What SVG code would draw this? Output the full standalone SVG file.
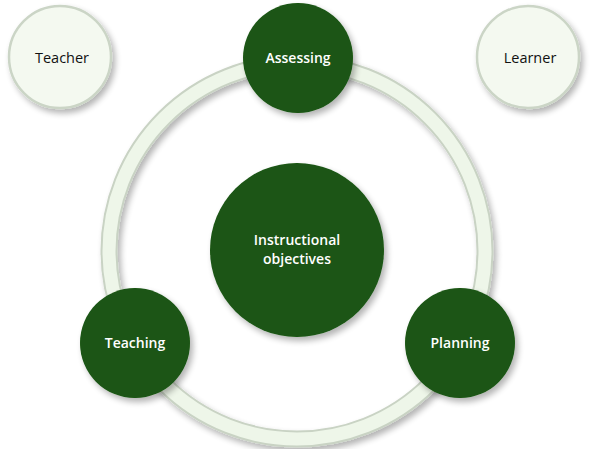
<svg xmlns="http://www.w3.org/2000/svg" width="600" height="449" viewBox="0 0 600 449">
<style>
.dark{fill:#1a5513;}
.light{fill:#f4f9f0;stroke:#cbd5c6;stroke-width:2.5;}
.tw{font-family:"Open Sans","Noto Sans",sans-serif;font-size:14px;font-weight:600;fill:#ffffff;text-anchor:middle;}
.tb{font-family:"Open Sans","Noto Sans",sans-serif;font-size:14.5px;fill:#111111;text-anchor:middle;}
</style>
<defs>
<filter id="sh" x="-20%" y="-20%" width="150%" height="150%">
<feGaussianBlur in="SourceAlpha" stdDeviation="3"/>
<feOffset dx="3" dy="4"/>
<feComponentTransfer><feFuncA type="linear" slope="0.3"/></feComponentTransfer>
<feMerge><feMergeNode/><feMergeNode in="SourceGraphic"/></feMerge>
</filter>
</defs>
<rect width="600" height="449" fill="#ffffff"/>
<g id="connectors">
<circle cx="297" cy="251" r="188" fill="none" stroke="#c9d3c4" stroke-width="17" filter="url(#sh)"/>
<circle cx="297" cy="251" r="188" fill="none" stroke="#eef6e9" stroke-width="13"/>
</g>
<g id="teacher">
<circle class="light" cx="60" cy="57" r="51" filter="url(#sh)"/>
<text class="tb" x="62" y="63">Teacher</text>
</g>
<g id="learner">
<circle class="light" cx="528" cy="57" r="51" filter="url(#sh)"/>
<text class="tb" x="530" y="63">Learner</text>
</g>
<g id="assessing">
<circle class="dark" cx="298" cy="58" r="55" filter="url(#sh)"/>
<text class="tw" x="298" y="63">Assessing</text>
</g>
<g id="objectives">
<circle class="dark" cx="297" cy="250" r="87" filter="url(#sh)"/>
<text class="tw" x="297" y="245">Instructional</text>
<text class="tw" x="297" y="264">objectives</text>
</g>
<g id="teaching">
<circle class="dark" cx="135" cy="343" r="55" filter="url(#sh)"/>
<text class="tw" x="135" y="348">Teaching</text>
</g>
<g id="planning">
<circle class="dark" cx="460" cy="343" r="55" filter="url(#sh)"/>
<text class="tw" x="460" y="348">Planning</text>
</g>
</svg>
